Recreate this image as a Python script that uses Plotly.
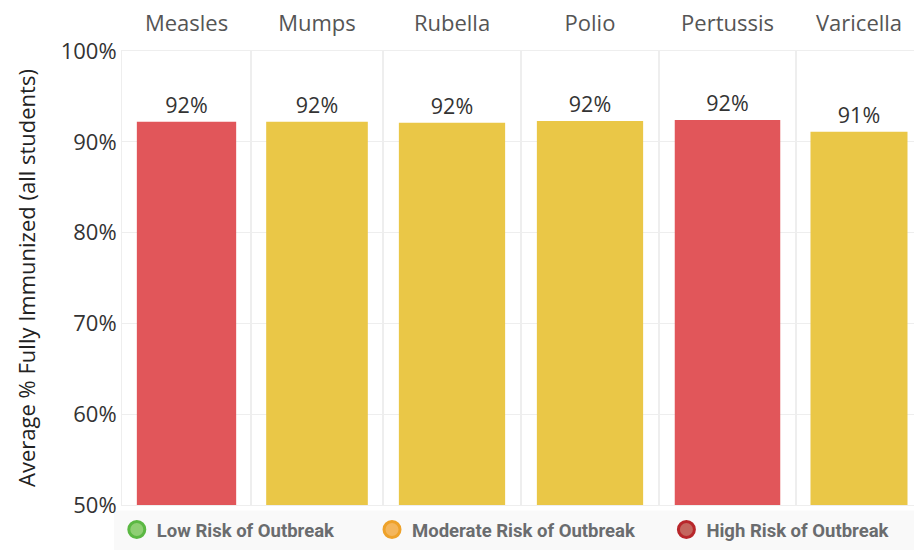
import plotly.graph_objects as go
from plotly.subplots import make_subplots

# ---- data ----
diseases = ["Measles", "Mumps", "Rubella", "Polio", "Pertussis", "Varicella"]
pct_immunized = [92.2, 92.2, 92.1, 92.3, 92.4, 91.1]
risk = ["High", "Moderate", "Moderate", "Moderate", "High", "Moderate"]
risk_levels = ["Low", "Moderate", "High"]
legend_labels = ["Low Risk of Outbreak", "Moderate Risk of Outbreak", "High Risk of Outbreak"]
y_ticks = [50, 60, 70, 80, 90, 100]
y_tick_labels = [f"{t}%" for t in y_ticks]

# ---- styles ----
bar_colors = {"Low": "#6cbf4a", "Moderate": "#eac747", "High": "#e1565a"}
legend_fill = {"Low": "#8fcf74", "Moderate": "#f4b65c", "High": "#c4665e"}
legend_ring = {"Low": "#5bb843", "Moderate": "#eea22a", "High": "#b8272b"}
legend_x = [-0.0065, 0.3125, 0.6805]
FONT = "Open Sans, sans-serif"
LEG_FONT = "Roboto, sans-serif"
LINE = "#eeeeee"

fig = make_subplots(rows=1, cols=len(diseases), shared_yaxes=True,
                    horizontal_spacing=0,
                    column_widths=[129, 132, 138, 138, 137, 126])

for i, (d, v, r) in enumerate(zip(diseases, pct_immunized, risk)):
    fig.add_trace(go.Bar(
        x=[d], y=[v], width=0.77,
        marker=dict(color=bar_colors[r], line=dict(width=0)),
        texttemplate="%{y:.0f}%", textposition="outside",
        textfont=dict(family=FONT, size=21.5, color="#333333"),
        cliponaxis=False, showlegend=False, hoverinfo="x+y",
    ), row=1, col=i + 1)

legend_names = ["legend", "legend2", "legend3"]
for lvl, lab, lg in zip(risk_levels, legend_labels, legend_names):
    fig.add_trace(go.Scatter(
        x=[None], y=[None], mode="markers", name=lab, legend=lg,
        marker=dict(size=16, color=legend_fill[lvl],
                    line=dict(color=legend_ring[lvl], width=3)),
        showlegend=True,
    ), row=1, col=1)

fig.update_xaxes(side="top", showline=True, mirror=True, linecolor=LINE,
                 linewidth=1, ticks="", showgrid=False, zeroline=False,
                 tickfont=dict(family=FONT, size=22, color="#555555"),
                 ticklabelstandoff=10, automargin=False, fixedrange=True)
fig.update_yaxes(range=[50, 100], tickvals=y_ticks, ticktext=y_tick_labels,
                 showgrid=True, gridcolor=LINE, gridwidth=1,
                 showline=True, mirror=True, linecolor=LINE, zeroline=False,
                 ticks="", tickfont=dict(family=FONT, size=22, color="#333333"),
                 automargin=False, fixedrange=True)
fig.update_yaxes(title=dict(text="Average % Fully Immunized (all students)",
                            font=dict(family=FONT, size=22, color="#222222"),
                            standoff=18), row=1, col=1)

leg_common = dict(orientation="h", xanchor="left", yanchor="middle",
                  y=-0.055, bgcolor="rgba(0,0,0,0)",
                  font=dict(family=LEG_FONT, size=18.5, color="#6a6c6e",
                            weight="bold"))
fig.update_layout(
    legend=dict(x=legend_x[0], **leg_common),
    legend2=dict(x=legend_x[1], **leg_common),
    legend3=dict(x=legend_x[2], **leg_common),
)

fig.add_shape(type="rect", xref="paper", yref="paper",
              x0=-0.01, x1=1.0, y0=-0.012, y1=-0.11,
              fillcolor="#f9f9f9", line=dict(width=0), layer="below")

# page body adds an 8px offset, so the figure is sized to fit the window
fig.update_layout(
    width=914, height=542,
    margin=dict(l=114, r=0, t=43, b=45),
    plot_bgcolor="white", paper_bgcolor="white",
    font=dict(family=FONT, color="#333333"),
    bargap=0.2,
)

fig.write_html("out.html")
